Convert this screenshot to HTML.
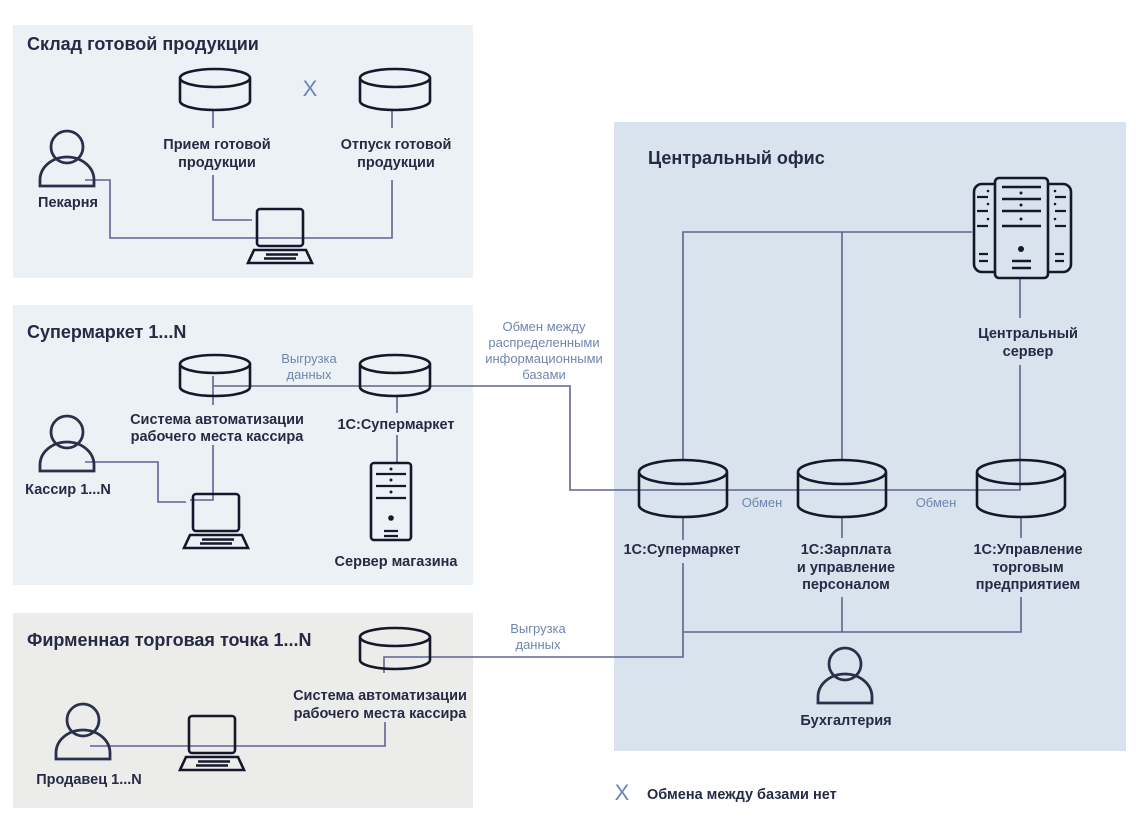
<!DOCTYPE html>
<html><head><meta charset="utf-8"><style>
html,body{margin:0;padding:0;background:#fff;}
svg{display:block;font-family:"Liberation Sans",sans-serif;}
.t{font-size:14.5px;font-weight:bold;fill:#262a45;text-anchor:middle;}
.h{font-size:18px;font-weight:bold;fill:#262a45;}
.b{font-size:13px;fill:#6f86ad;text-anchor:middle;}
.ln{stroke:#5d6590;stroke-width:1.6;fill:none;}
.ic{stroke:#15172a;stroke-width:2.6;fill:none;}
.icp{stroke:#2a2f4a;stroke-width:2.8;fill:none;}
</style></head><body>
<svg width="1142" height="832" viewBox="0 0 1142 832" xmlns="http://www.w3.org/2000/svg">
<defs>
<g id="cyl"><path class="ic" d="M-35,9 a35,9 0 0 1 70,0 a35,9 0 0 1 -70,0 M-35,9 V32 a35,9 0 0 0 70,0 V9"/></g>
<g id="cylb"><path class="ic" d="M-44,12 a44,12 0 0 1 88,0 a44,12 0 0 1 -88,0 M-44,12 V45 a44,12 0 0 0 88,0 V12"/></g>
<g id="per"><circle class="icp" cx="0" cy="17" r="16"/><path class="icp" d="M-27,56 V50 A27,23 0 0 1 27,50 V56 Z"/></g>
<g id="lap"><rect class="ic" x="-23" y="0" width="46" height="37" rx="3"/><path class="ic" d="M-26,41 H26 L32,54 H-32 Z"/><path class="ic" d="M-14,45.5 H18 M-16,49.5 H16" stroke-width="1.8"/></g>
</defs>
<rect x="13" y="25" width="460" height="253" fill="#ebf1f5"/>
<rect x="13" y="305" width="460" height="280" fill="#ebf1f5"/>
<rect x="13" y="613" width="460" height="195" fill="#ececea"/>
<rect x="614" y="122" width="512" height="629" fill="#d9e3ee"/>

<text class="h" x="27" y="50">Склад готовой продукции</text>
<text class="h" x="27" y="338">Супермаркет 1...N</text>
<text class="h" x="27" y="646">Фирменная торговая точка 1...N</text>
<text class="h" x="648" y="164">Центральный офис</text>

<path class="ln" d="M85,180 H110 V238 H392 V180"/>
<path class="ln" d="M213,175 V220 H252"/>
<path class="ln" d="M213,111 V128 M392,111 V128"/>
<path class="ln" d="M213,376 V405 M213,445 V500 H190"/>
<path class="ln" d="M213,386 H570 V490 H1020 V365"/>
<path class="ln" d="M85,462 H158 V502 H186"/>
<path class="ln" d="M397,397 V413 M397,435 V463"/>
<path class="ln" d="M683,460 V232 H972 M842,232 V460"/>
<path class="ln" d="M1020,278 V318"/>
<path class="ln" d="M683,518 V540 M683,563 V657 H384 V673"/>
<path class="ln" d="M842,518 V538 M1021,518 V538"/>
<path class="ln" d="M683,632 H1021 V597 M842,597 V632"/>
<path class="ln" d="M90,746 H385 V722"/>

<use href="#cyl" x="215" y="69"/>
<use href="#cyl" x="395" y="69"/>
<use href="#cyl" x="215" y="355"/>
<use href="#cyl" x="395" y="355"/>
<use href="#cyl" x="395" y="628"/>
<use href="#cylb" x="683" y="460"/>
<use href="#cylb" x="842" y="460"/>
<use href="#cylb" x="1021" y="460"/>

<use href="#per" x="67" y="130"/>
<use href="#per" x="67" y="415"/>
<use href="#per" x="83" y="703"/>
<use href="#per" x="845" y="647"/>

<use href="#lap" x="280" y="209"/>
<use href="#lap" x="216" y="494"/>
<use href="#lap" x="212" y="716"/>

<g class="ic">
<rect x="371" y="463" width="40" height="77" rx="3"/>
<path d="M376,474 H406 M376,486 H406 M376,498 H406 M384,531 H398 M384,536 H398" stroke-width="2.2"/>
</g>
<circle cx="391" cy="469" r="1.5" fill="#15172a"/><circle cx="391" cy="480" r="1.5" fill="#15172a"/><circle cx="391" cy="492" r="1.5" fill="#15172a"/><circle cx="391" cy="518" r="2.8" fill="#15172a"/>

<g class="ic">
<rect x="995" y="178" width="53" height="100" rx="4"/>
<path d="M995,184 H982 a8,8 0 0 0 -8,8 V264 a8,8 0 0 0 8,8 H995"/>
<path d="M1048,184 H1063 a8,8 0 0 1 8,8 V264 a8,8 0 0 1 -8,8 H1048"/>
<path d="M1002,187 H1041 M1002,199 H1041 M1002,211 H1041 M1002,226 H1041 M1012,261 H1031 M1012,268 H1031" stroke-width="2.4"/>
<path d="M977,197 H988 M977,211 H988 M977,226 H988 M1055,197 H1066 M1055,211 H1066 M1055,226 H1066 M979,254 H988 M979,261 H988 M1055,254 H1064 M1055,261 H1064" stroke-width="2.2"/>
</g>
<g fill="#15172a"><circle cx="1021" cy="193" r="1.5"/><circle cx="1021" cy="205" r="1.5"/><circle cx="1021" cy="219" r="1.5"/><circle cx="1021" cy="249" r="3"/>
<circle cx="988" cy="191" r="1.3"/><circle cx="988" cy="204" r="1.3"/><circle cx="988" cy="219" r="1.3"/><circle cx="1055" cy="191" r="1.3"/><circle cx="1055" cy="204" r="1.3"/><circle cx="1055" cy="219" r="1.3"/></g>

<text class="t" x="217" y="149">Прием готовой</text><text class="t" x="217" y="167">продукции</text>
<text class="t" x="396" y="149">Отпуск готовой</text><text class="t" x="396" y="167">продукции</text>
<text class="t" x="68" y="207">Пекарня</text>
<text class="b" x="309" y="363">Выгрузка</text><text class="b" x="309" y="379">данных</text>
<text class="t" x="217" y="424">Система автоматизации</text><text class="t" x="217" y="441">рабочего места кассира</text>
<text class="t" x="396" y="429">1С:Супермаркет</text>
<text class="t" x="68" y="494">Кассир 1...N</text>
<text class="t" x="396" y="566">Сервер магазина</text>
<text class="b" x="544" y="331">Обмен между</text><text class="b" x="544" y="347">распределенными</text><text class="b" x="544" y="363">информационными</text><text class="b" x="544" y="379">базами</text>
<text class="t" x="1028" y="338">Центральный</text><text class="t" x="1028" y="356">сервер</text>
<text class="b" x="762" y="507">Обмен</text><text class="b" x="936" y="507">Обмен</text>
<text class="t" x="682" y="554">1С:Супермаркет</text>
<text class="t" x="846" y="554">1С:Зарплата</text><text class="t" x="846" y="572">и управление</text><text class="t" x="846" y="589">персоналом</text>
<text class="t" x="1028" y="554">1С:Управление</text><text class="t" x="1028" y="572">торговым</text><text class="t" x="1028" y="589">предприятием</text>
<text class="t" x="846" y="725">Бухгалтерия</text>
<text class="b" x="538" y="633">Выгрузка</text><text class="b" x="538" y="649">данных</text>
<text class="t" x="380" y="700">Система автоматизации</text><text class="t" x="380" y="718">рабочего места кассира</text>
<text class="t" x="89" y="784">Продавец 1...N</text>
<text x="310" y="96" font-size="22" fill="#6a86b8" text-anchor="middle">X</text>
<text x="622" y="800" font-size="22" fill="#6a86b8" text-anchor="middle">X</text>
<text x="647" y="799" font-size="14.5" font-weight="bold" fill="#262a45">Обмена между базами нет</text>
</svg>
</body></html>
